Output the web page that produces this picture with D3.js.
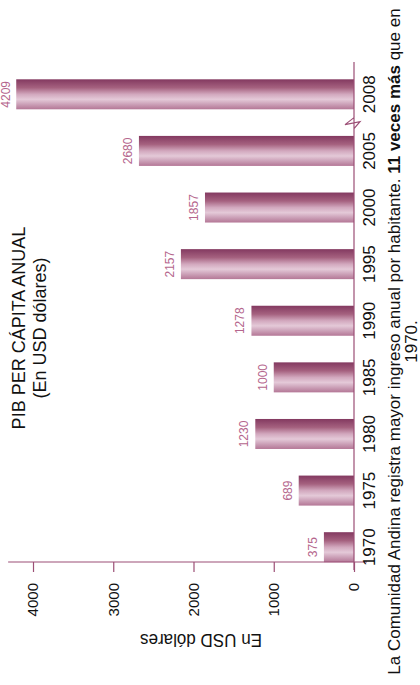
<!DOCTYPE html>
<html><head><meta charset="utf-8">
<script src="https://cdn.jsdelivr.net/npm/d3@7/dist/d3.min.js"></script>
<style>html,body{margin:0;padding:0;background:#fff;} svg{display:block;font-family:"Liberation Sans",Arial,Helvetica,sans-serif;}</style>
</head><body><svg id="c" width="420" height="685"></svg>
<script>
const years = ["1970","1975","1980","1985","1990","1995","2000","2005","2008"];
const values = [375,689,1230,1000,1278,2157,1857,2680,4209];
const valueTicks = [0,1000,2000,3000,4000];
const titleLines = ["PIB PER CÁPITA ANUAL","(En USD dólares)"];
const axisLabel = "En USD dólares";
const captionParts = [
  {t:"La Comunidad Andina registra mayor ingreso anual por habitante. ", b:false},
  {t:"11 veces más", b:true},
  {t:" que en", b:false}
];
const captionLine2 = "1970.";

const W = 420, H = 685;
const axisColor = "#9c4f76";
const labelColor = "#b5668d";

const svg = d3.select("#c");
const defs = svg.append("defs");
const grad = defs.append("linearGradient").attr("id","barGrad")
  .attr("x1","0").attr("y1","0").attr("x2","1").attr("y2","0");
[[0,"#b47796"],[0.15,"#c99cb4"],[0.33,"#e4c9d8"],[0.5,"#d2a8be"],[0.72,"#a5617f"],[1,"#833960"]]
  .forEach(([o,c]) => grad.append("stop").attr("offset",o).attr("stop-color",c));

// whole chart drawn in an unrotated frame, then turned -90deg
const g = svg.append("g").attr("transform",`translate(0,${H}) rotate(-90)`);

const x = d3.scaleBand().domain(years).range([109.5, 619]).paddingInner(0.47).paddingOuter(0.235);
const y = d3.scaleLinear().domain([0,4000]).range([354,33]);

// title
g.selectAll("text.title").data(titleLines).join("text")
  .attr("class","title")
  .attr("x",357).attr("y",(d,i)=> i===0 ? 25 : 46)
  .attr("text-anchor","middle").attr("font-size",18).attr("fill","#111")
  .text(d=>d);

// bars
g.selectAll("rect.bar").data(values).join("rect")
  .attr("class","bar")
  .attr("x",(d,i)=>x(years[i]))
  .attr("y",d=>y(d))
  .attr("width",x.bandwidth())
  .attr("height",d=>y(0)-y(d))
  .attr("fill","url(#barGrad)");

// value labels
g.selectAll("text.val").data(values).join("text")
  .attr("class","val")
  .attr("x",(d,i)=>x(years[i])+x.bandwidth()/2)
  .attr("y",d=>Math.max(y(d)-7, 10))
  .attr("text-anchor","middle").attr("font-size",12).attr("fill",labelColor)
  .text(d=>d);

// value axis
const yAxisX = 123;
const ya = g.append("g").attr("transform",`translate(${yAxisX},0)`)
  .call(d3.axisLeft(y).tickValues(valueTicks).tickSize(10).tickPadding(11).tickFormat(d3.format("d")));
ya.select(".domain").remove();
ya.selectAll(".tick line").attr("stroke",axisColor).attr("stroke-width",1.2);
ya.selectAll(".tick text").attr("font-size",15).attr("fill","#111").attr("font-family","Liberation Sans, Arial, sans-serif");
g.append("line").attr("x1",yAxisX).attr("x2",yAxisX)
  .attr("y1",y(0)+13).attr("y2",y(4310))
  .attr("stroke",axisColor).attr("stroke-width",1.2);

// axis title
g.append("text").attr("transform",`translate(51,201) rotate(-90)`)
  .attr("text-anchor","middle").attr("font-size",18).attr("fill","#111")
  .attr("textLength",122).attr("lengthAdjust","spacingAndGlyphs")
  .text(axisLabel);

// baseline with break mark between 2005 and 2008
const b0 = y(0);
const mid = (x("2005")+x.bandwidth()+x("2008"))/2;
const basePts = [[115,b0],[mid+5,b0],[mid-2,b0-9],[mid+1,b0+6],[mid-6,b0],[623,b0]];
g.append("path").attr("d",d3.line()(basePts))
  .attr("fill","none").attr("stroke",axisColor).attr("stroke-width",1.2);

// category labels
g.selectAll("text.cat").data(years).join("text")
  .attr("class","cat")
  .attr("x",d=>x(d)+x.bandwidth()/2)
  .attr("y",375)
  .attr("text-anchor","middle").attr("font-size",17).attr("fill","#111")
  .text(d=>d);

// caption
const cap = g.append("text").attr("x",343.5).attr("y",400)
  .attr("text-anchor","middle").attr("font-size",17).attr("fill","#111");
cap.selectAll("tspan").data(captionParts).join("tspan")
  .attr("font-weight",d=>d.b?"bold":"normal")
  .text(d=>d.t);
g.append("text").attr("x",343.5).attr("y",417)
  .attr("text-anchor","middle").attr("font-size",17).attr("fill","#111")
  .text(captionLine2);
</script>
</body></html>
